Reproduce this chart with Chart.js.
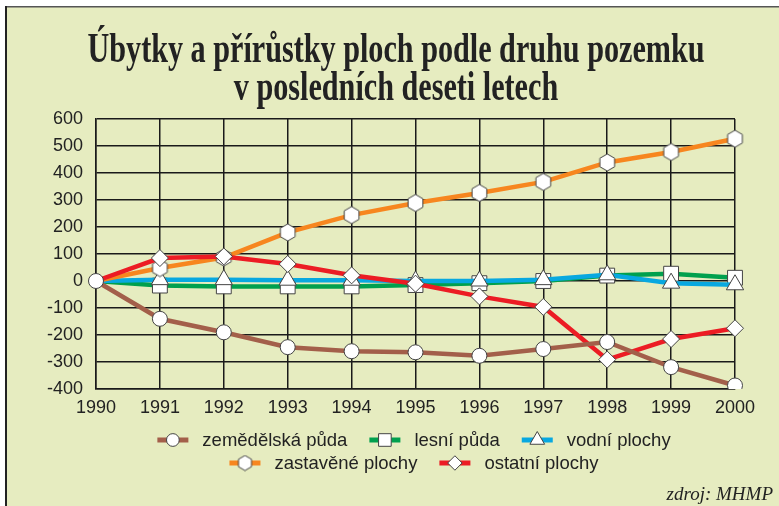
<!DOCTYPE html>
<html lang="cs">
<head>
<meta charset="utf-8">
<title>Úbytky a přírůstky ploch</title>
<script src="https://cdn.jsdelivr.net/npm/chart.js@4/dist/chart.umd.min.js"></script>
<style>
  html, body { margin: 0; padding: 0; background: #fff; }
  #wrap { position: relative; width: 779px; height: 506px; }
</style>
</head>
<body>
<div id="wrap"><canvas id="c" width="779" height="506"></canvas></div>
<script>
// hodnoty (změna výměry oproti roku 1990)
var years = ["1990", "1991", "1992", "1993", "1994", "1995", "1996", "1997", "1998", "1999", "2000"];
var zemedelska = [0, -140, -190, -245, -260, -264, -277, -252, -226, -319, -387];
var lesni = [0, -17, -20, -20, -20, -15, -8, 0, 20, 27, 12];
var vodni = [0, 5, 5, 3, 3, 0, 0, 5, 23, -8, -14];
var zastavene = [0, 48, 87, 180, 244, 289, 326, 367, 439, 478, 527];
var ostatni = [0, 85, 91, 63, 21, -10, -57, -96, -291, -215, -175];
var yTicks = [-400, -300, -200, -100, 0, 100, 200, 300, 400, 500, 600];

var titleLines = ["Úbytky a přírůstky ploch podle druhu pozemku", "v posledních deseti letech"];

var BG = "#e6ecc0";
var INK = "#222";

function hexImage(r) {
  var s = Math.ceil(r * 2 + 2);
  var cv = document.createElement("canvas");
  cv.width = s; cv.height = s;
  var g = cv.getContext("2d");
  g.beginPath();
  for (var k = 0; k < 6; k++) {
    var a = -Math.PI / 2 + k * Math.PI / 3;
    var px = s / 2 + Math.cos(a) * r, py = s / 2 + Math.sin(a) * r;
    if (k === 0) g.moveTo(px, py); else g.lineTo(px, py);
  }
  g.closePath();
  g.fillStyle = "#fff";
  g.fill();
  g.strokeStyle = "#444";
  g.lineWidth = 1;
  g.stroke();
  return cv;
}
var hex = hexImage(8.5);
var hexSmall = hexImage(7.5);

var series = [
  { label: "zemědělská půda", data: zemedelska, color: "#a35f4a", style: "circle", r: 7.5 },
  { label: "lesní půda", data: lesni, color: "#00a04e", style: "rect", r: 10.5 },
  { label: "vodní plochy", data: vodni, color: "#08a8e0", style: "triangle", r: 10 },
  { label: "zastavěné plochy", data: zastavene, color: "#f7861f", style: hex, r: 8.5 },
  { label: "ostatní plochy", data: ostatni, color: "#ec1c24", style: "rectRot", r: 8.5 }
];

function drawMarker(ctx, style, x, y, r) {
  if (typeof style !== "string") {
    ctx.drawImage(hexSmall, x - hexSmall.width / 2, y - hexSmall.height / 2);
    return;
  }
  ctx.beginPath();
  if (style === "circle") {
    ctx.arc(x, y, r, 0, Math.PI * 2);
  } else if (style === "rect") {
    var h = r * Math.SQRT1_2;
    ctx.rect(x - h, y - h, 2 * h, 2 * h);
  } else if (style === "triangle") {
    for (var k = 0; k < 3; k++) {
      var a = -Math.PI / 2 + k * 2 * Math.PI / 3;
      if (k === 0) ctx.moveTo(x + Math.cos(a) * r, y + Math.sin(a) * r);
      else ctx.lineTo(x + Math.cos(a) * r, y + Math.sin(a) * r);
    }
    ctx.closePath();
  } else if (style === "rectRot") {
    ctx.moveTo(x, y - r); ctx.lineTo(x + r, y); ctx.lineTo(x, y + r); ctx.lineTo(x - r, y);
    ctx.closePath();
  }
  ctx.fillStyle = "#fff";
  ctx.fill();
  ctx.strokeStyle = "#444";
  ctx.lineWidth = 1;
  ctx.stroke();
}

var framePlugin = {
  id: "frame",
  beforeDraw: function (chart) {
    var ctx = chart.ctx;
    ctx.save();
    ctx.fillStyle = "#fff";
    ctx.fillRect(0, 0, chart.width, chart.height);
    ctx.fillStyle = BG;
    ctx.fillRect(6, 7, chart.width - 6, chart.height - 7);
    ctx.fillStyle = "#555";
    ctx.fillRect(6, 6, chart.width - 6, 1.5);
    ctx.fillStyle = "#222";
    ctx.fillRect(5, 6, 2, chart.height - 6);
    ctx.restore();
  },
  afterDraw: function (chart) {
    var ctx = chart.ctx;
    ctx.save();
    // titulek - úzké patkové písmo
    ctx.fillStyle = INK;
    ctx.font = "bold 42px 'Liberation Serif', 'DejaVu Serif', serif";
    ctx.textAlign = "center";
    ctx.textBaseline = "alphabetic";
    var sx = 617 / ctx.measureText(titleLines[0]).width;
    [[titleLines[0], 62], [titleLines[1], 100]].forEach(function (t) {
      ctx.save();
      ctx.translate(396, t[1]);
      ctx.scale(sx, 1);
      ctx.fillText(t[0], 0, 0);
      ctx.restore();
    });

    // legenda ve dvou řádcích
    var rows = [[0, 1, 2], [3, 4]];
    var rowY = [440, 463];
    ctx.font = "18.5px 'Liberation Sans', Arial, sans-serif";
    ctx.textAlign = "left";
    ctx.textBaseline = "middle";
    rows.forEach(function (row, ri) {
      var gap = 22, sw = 31, tx = 14;
      var total = 0;
      row.forEach(function (i, j) {
        total += sw + tx + ctx.measureText(series[i].label).width + (j ? gap : 0);
      });
      var x = 414 - total / 2;
      var y = rowY[ri];
      row.forEach(function (i) {
        var s = series[i];
        ctx.fillStyle = s.color;
        ctx.fillRect(x, y - 2.5, sw, 5);
        drawMarker(ctx, s.style, x + sw / 2, y, s.r * 0.85);
        ctx.fillStyle = INK;
        ctx.fillText(s.label, x + sw + tx, y + 1);
        x += sw + tx + ctx.measureText(s.label).width + gap;
      });
    });

    ctx.font = "italic 19px 'Liberation Serif', serif";
    ctx.textAlign = "right";
    ctx.textBaseline = "alphabetic";
    ctx.fillStyle = INK;
    ctx.fillText("zdroj: MHMP", 773, 500);
    ctx.restore();
  }
};

var datasets = series.map(function (s, i) {
  // v roce 1990 je vidět jen kroužek první řady
  var radii = s.data.map(function (_, k) { return (k === 0 && i > 0) ? 0 : s.r; });
  return {
    label: s.label,
    data: s.data,
    borderColor: s.color,
    backgroundColor: "#fff",
    borderWidth: 4.5,
    tension: 0,
    pointStyle: s.style,
    pointRadius: radii,
    pointHoverRadius: radii,
    pointBackgroundColor: "#fff",
    pointBorderColor: "#444",
    pointBorderWidth: 1,
    order: i === 0 ? 0 : series.length - i
  };
});

new Chart(document.getElementById("c"), {
  type: "line",
  data: { labels: years, datasets: datasets },
  plugins: [framePlugin],
  options: {
    responsive: false,
    animation: false,
    layout: { padding: { left: 0, right: 44, top: 119, bottom: 0 } },
    plugins: {
      legend: { display: false },
      tooltip: { enabled: false },
      title: { display: false }
    },
    scales: {
      x: {
        offset: false,
        grid: { color: "#1a1a1a", lineWidth: 1.5, drawTicks: false },
        border: { color: "#1a1a1a", width: 1.5 },
        ticks: {
          color: INK,
          padding: 8,
          maxRotation: 0,
          autoSkip: false,
          font: { family: "'Liberation Sans', Arial, sans-serif", size: 18 }
        },
        afterFit: function (axis) { axis.height = 506 - 389; }
      },
      y: {
        min: -400,
        max: 600,
        afterBuildTicks: function (axis) {
          axis.ticks = yTicks.map(function (v) { return { value: v }; });
        },
        grid: { color: "#1a1a1a", lineWidth: 1.5, drawTicks: false },
        border: { color: "#1a1a1a", width: 1.5 },
        ticks: {
          color: INK,
          padding: 13,
          font: { family: "'Liberation Sans', Arial, sans-serif", size: 18 }
        },
        afterFit: function (axis) { axis.width = 96; }
      }
    }
  }
});
</script>
</body>
</html>
